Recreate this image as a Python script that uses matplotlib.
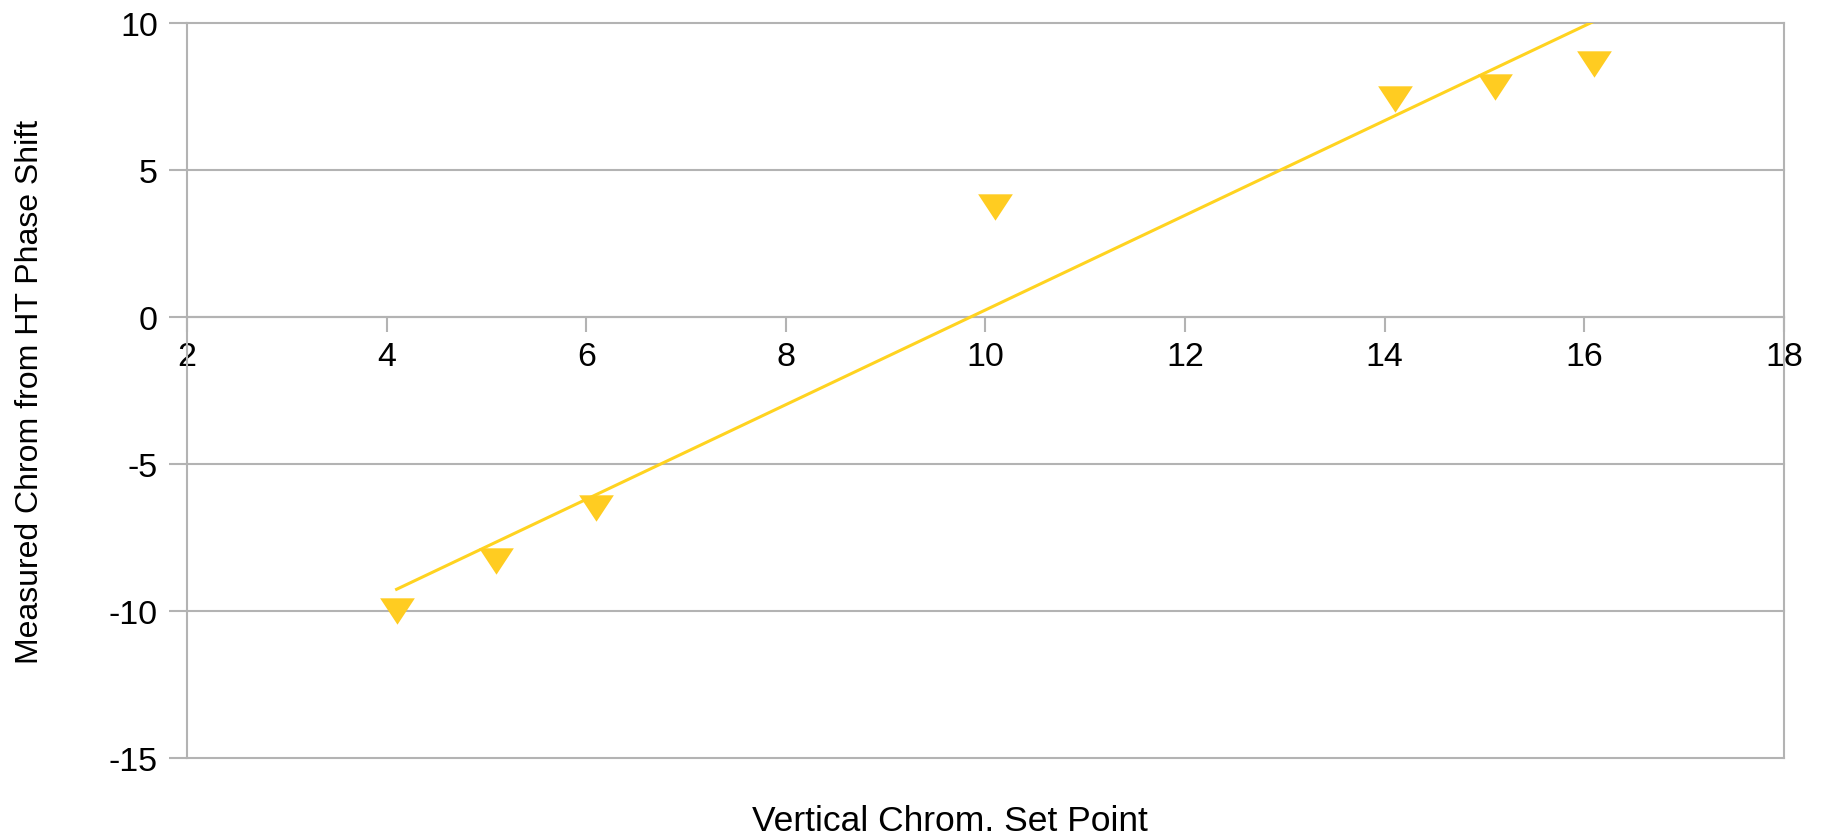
import numpy as np
import matplotlib
matplotlib.use('Agg')
import matplotlib.pyplot as plt

# set point vs measured chromaticity
set_point = [4.1, 5.1, 6.1, 10.1, 14.1, 15.1, 16.1]
measured = [-10.0, -8.3, -6.5, 3.74, 7.43, 7.84, 8.6]

x_ticks = [2, 4, 6, 8, 10, 12, 14, 16, 18]
y_ticks = [-15, -10, -5, 0, 5, 10]

yellow = '#ffcc21'
grey = '#b3b3b3'

plt.rcParams['font.family'] = ['Liberation Sans', 'DejaVu Sans']
plt.rcParams['axes.unicode_minus'] = False

fig = plt.figure(figsize=(18.26, 8.37), dpi=100)
ax = fig.add_axes([0.1024, 0.0932, 0.9770 - 0.1024, 0.9713 - 0.0932])

# linear trend line over the data range
slope, icept = np.polyfit(set_point, measured, 1)
xs = np.array([min(set_point), max(set_point)])
ax.plot(xs, slope * xs + icept, color='#ffd320', lw=2.2, zorder=3)

tri = [(-1, 0.76), (1, 0.76), (0, -0.76)]
ax.plot(set_point, measured, linestyle='none', marker=tri, ms=25,
        color=yellow, mec='none', zorder=4)

ax.set_xlim(2, 18)
ax.set_ylim(-15, 10)
ax.set_xticks(x_ticks)
ax.set_yticks(y_ticks)

ax.grid(axis='y', color=grey, lw=1.5, clip_on=False)
ax.set_axisbelow(True)
for side in ['left', 'right', 'top', 'bottom']:
    ax.spines[side].set_color(grey)
    ax.spines[side].set_linewidth(1.5)
ax.spines['bottom'].set_position(('data', 0))
ax.spines['top'].set_visible(False)

ax.tick_params(axis='both', width=1.5, color=grey,
               labelsize=24.5, labelcolor='black')
ax.tick_params(axis='y', length=13, pad=8)
ax.tick_params(axis='x', length=11, pad=6)

ax.set_xlabel('Vertical Chrom. Set Point', fontsize=25.5, va='center')
ax.xaxis.set_label_coords(0.478, -0.0856)
ax.set_ylabel('Measured Chrom from HT Phase Shift', fontsize=23, va='center')
ax.yaxis.set_label_coords(-0.098, 0.5)

fig.savefig('out.png', dpi=100)
